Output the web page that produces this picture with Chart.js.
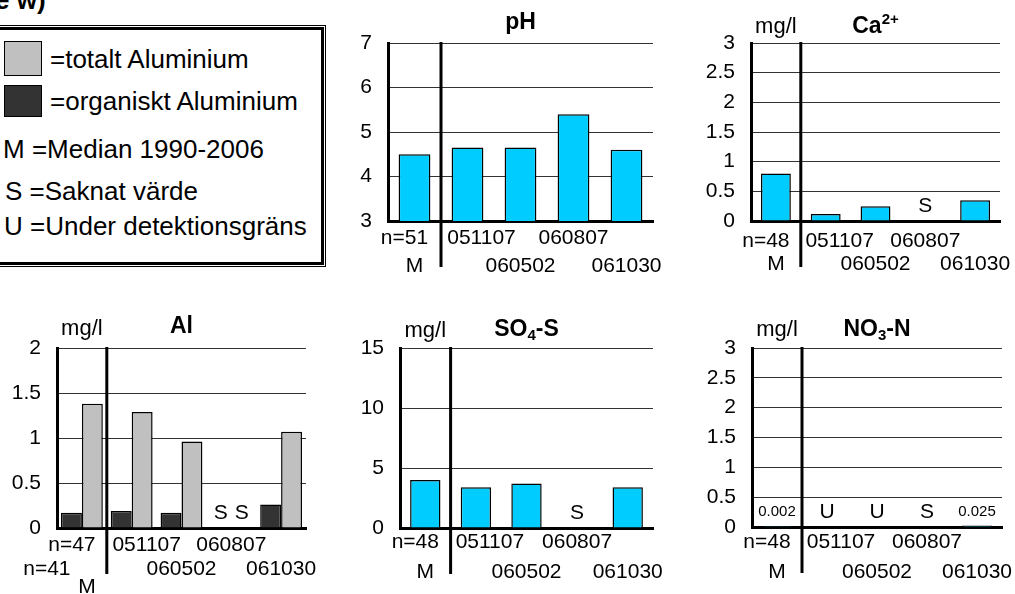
<!DOCTYPE html>
<html lang="sv">
<head>
<meta charset="UTF-8">
<title>Vattenkemi</title>
<script src="https://cdn.jsdelivr.net/npm/chart.js"></script>
<style>
    body {
        margin: 0;
        width: 1015px;
        height: 594px;
        position: relative;
        overflow: hidden;
        background: #fff;
        color: #000;
        font-family: "Liberation Sans", Arial, sans-serif;
    }
    canvas { position: absolute; }
    #head {
        position: absolute;
        left: -5px;
        top: -13px;
        font-size: 26px;
        line-height: 26px;
        font-weight: bold;
        white-space: nowrap;
    }
    #legendBox {
        position: absolute;
        left: -12px;
        top: 27px;
        width: 336px;
        height: 238px;
        box-sizing: border-box;
        border: 3px solid #000;
        outline: 1px solid #000;
        outline-offset: 1px;
    }
    .swatch {
        position: absolute;
        left: 4px;
        width: 38px;
        box-sizing: border-box;
        border: 1.5px solid #000;
    }
    .ltext {
        position: absolute;
        font-size: 26px;
        line-height: 26px;
        white-space: nowrap;
    }
</style>
</head>
<body>
<div id="head">e w)</div>
<div id="legendBox"></div>
<div class="swatch" style="top:41px;height:35px;background:#c0c0c0"></div>
<div class="swatch" style="top:85px;height:32px;background:#333"></div>
<div class="ltext" style="left:50px;top:46px">=totalt Aluminium</div>
<div class="ltext" style="left:50px;top:88px">=organiskt Aluminium</div>
<div class="ltext" style="left:3px;top:136px">M =Median 1990-2006</div>
<div class="ltext" style="left:5px;top:178px">S =Saknat värde</div>
<div class="ltext" style="left:4px;top:213px">U =Under detektionsgräns</div>

<canvas id="phChart"></canvas>
<canvas id="caChart"></canvas>
<canvas id="alChart"></canvas>
<canvas id="so4Chart"></canvas>
<canvas id="no3Chart"></canvas>

<script>
    // provtagningsdatum, samma i alla diagram
    const dateRows = [['051107'], ['', '060502'], ['060807'], ['', '061030']];

    const phCats = [['n=51', 'M']].concat(dateRows);
    const caCats = [['n=48', 'M']].concat(dateRows);
    const alCats = [['n=47', 'n=41', 'M']].concat(dateRows);
    const so4Cats = [['n=48', 'M']].concat(dateRows);
    const no3Cats = [['n=48', 'M']].concat(dateRows);

    const phValues = [4.5, 4.65, 4.65, 5.4, 4.6];
    const caValues = [0.8, 0.12, 0.25, null, 0.35];
    const alOrganic = [0.17, 0.19, 0.17, null, 0.26];
    const alTotal = [1.38, 1.29, 0.96, null, 1.07];
    const so4Values = [4.0, 3.4, 3.7, null, 3.4];
    const no3Values = [0.002, null, null, null, 0.025];

    // S = saknat värde, U = under detektionsgräns
    const caNotes = [null, null, null, 'S', null];
    const alOrganicNotes = [null, null, null, 'S', null];
    const alTotalNotes = [null, null, null, 'S', null];
    const so4Notes = [null, null, null, 'S', null];
    const no3Notes = [null, 'U', 'U', 'S', null];

    // y-axlar: [min, max, steg]
    const phAxis = [3, 7, 1];
    const caAxis = [0, 3, 0.5];
    const alAxis = [0, 2, 0.5];
    const so4Axis = [0, 15, 5];
    const no3Axis = [0, 3, 0.5];

    const FONT = '"Liberation Sans", Arial, sans-serif';
    const CYAN = '#00ccff';

    function panelPlugin(cfg) {
        return {
            id: 'panel',
            afterDatasetsDraw(chart) {
                const ctx = chart.ctx;
                const xs = chart.scales.x;
                const area = chart.chartArea;
                const xd = (xs.getPixelForValue(0) + xs.getPixelForValue(1)) / 2;
                ctx.save();
                ctx.strokeStyle = '#000';
                ctx.lineWidth = 3;
                ctx.beginPath();
                ctx.moveTo(xd, area.top - 1);
                ctx.lineTo(xd, area.bottom + 46);
                ctx.stroke();
                ctx.restore();
            },
            afterDraw(chart) {
                const ctx = chart.ctx;
                const xs = chart.scales.x;
                const ys = chart.scales.y;
                const area = chart.chartArea;
                const zero = ys.getPixelForValue(0);
                ctx.save();
                ctx.fillStyle = '#000';

                // kategorietiketter i rader
                ctx.font = '21px ' + FONT;
                ctx.textAlign = 'center';
                ctx.textBaseline = 'middle';
                cfg.cats.forEach((rows, i) => {
                    rows.forEach((s, r) => {
                        if (!s) return;
                        const dx = (cfg.shift[i] && cfg.shift[i][r]) || 0;
                        ctx.fillText(s, xs.getPixelForValue(i) + dx, area.bottom + cfg.rowY[r]);
                    });
                });

                // S / U markeringar
                cfg.notes.forEach((notes, d) => {
                    const meta = chart.getDatasetMeta(d);
                    notes.forEach((s, i) => {
                        if (!s) return;
                        ctx.fillText(s, meta.data[i].x, zero - 15);
                    });
                });

                // små värdeetiketter
                if (cfg.showValues) {
                    ctx.font = '15px ' + FONT;
                    chart.data.datasets.forEach((ds, d) => {
                        const meta = chart.getDatasetMeta(d);
                        ds.data.forEach((v, i) => {
                            if (v === null) return;
                            ctx.fillText(v.toFixed(3), meta.data[i].x, zero - 15);
                        });
                    });
                }

                // enhet
                if (cfg.unit) {
                    ctx.font = '22px ' + FONT;
                    ctx.textBaseline = 'alphabetic';
                    ctx.fillText(cfg.unit, xs.getPixelForValue(0), area.top + cfg.unitY);
                }

                // rubrik med upphöjt/nedsänkt
                ctx.textAlign = 'left';
                ctx.textBaseline = 'alphabetic';
                const fontOf = m => m ? 'bold 15px ' + FONT : 'bold 23px ' + FONT;
                let total = 0;
                cfg.title.forEach(([s, m]) => { ctx.font = fontOf(m); total += ctx.measureText(s).width; });
                let x = (area.left + area.right) / 2 - total / 2;
                const base = area.top + cfg.titleY;
                cfg.title.forEach(([s, m]) => {
                    ctx.font = fontOf(m);
                    const dy = m === 'sup' ? -9 : m === 'sub' ? 4 : 0;
                    ctx.fillText(s, x, base + dy);
                    x += ctx.measureText(s).width;
                });
                ctx.restore();
            }
        };
    }

    function makePanel(id, box, area, axis, datasets, cfg) {
        const cv = document.getElementById(id);
        cv.width = box.w;
        cv.height = box.h;
        cv.style.left = box.x + 'px';
        cv.style.top = box.y + 'px';
        const yWidth = area.l - box.x;
        const xHeight = 40;
        return new Chart(cv, {
            type: 'bar',
            data: {
                labels: cfg.cats.map(c => c.join(' ')),
                datasets: datasets
            },
            options: {
                responsive: false,
                animation: false,
                devicePixelRatio: 1,
                layout: {
                    padding: {
                        left: 0,
                        top: area.t - box.y,
                        right: box.x + box.w - area.r,
                        bottom: box.y + box.h - area.b - xHeight
                    }
                },
                plugins: {
                    legend: { display: false },
                    tooltip: { enabled: false }
                },
                scales: {
                    x: {
                        offset: true,
                        grid: { display: false },
                        border: { display: true, width: 3, color: '#000' },
                        ticks: { display: false },
                        afterFit: s => { s.height = xHeight; }
                    },
                    y: {
                        min: axis[0],
                        max: axis[1],
                        ticks: {
                            stepSize: axis[2],
                            color: '#000',
                            padding: 16,
                            font: { family: FONT, size: 21 },
                            callback: v => String(v)
                        },
                        grid: { color: '#333', lineWidth: 1, drawTicks: false },
                        border: { display: true, width: 3, color: '#000' },
                        afterFit: s => { s.width = yWidth; }
                    }
                }
            },
            plugins: [panelPlugin(cfg)]
        });
    }

    function cyanSet(values) {
        return {
            data: values,
            backgroundColor: CYAN,
            borderColor: '#000',
            borderWidth: 1.5,
            barPercentage: 0.6,
            categoryPercentage: 1
        };
    }

    const stdShift = { 0: [-10, 0], 1: [14] };

    makePanel('phChart', { x: 340, y: 0, w: 335, h: 290 }, { l: 388, r: 653, t: 43, b: 221 },
        phAxis, [cyanSet(phValues)],
        { cats: phCats, rowY: [17, 45], shift: stdShift, notes: [], title: [['pH', '']], titleY: -14 });

    makePanel('caChart', { x: 690, y: 0, w: 325, h: 290 }, { l: 751, r: 1000, t: 43, b: 221 },
        caAxis, [cyanSet(caValues)],
        { cats: caCats, rowY: [20, 43], shift: stdShift, notes: [caNotes],
          unit: 'mg/l', unitY: -10, title: [['Ca', ''], ['2+', 'sup']], titleY: -10 });

    makePanel('alChart', { x: 0, y: 300, w: 330, h: 294 }, { l: 57, r: 306, t: 348, b: 528 },
        alAxis, [
            { data: alOrganic, backgroundColor: '#333333', borderColor: '#000', borderWidth: 1.5,
              barPercentage: 1, categoryPercentage: 0.84 },
            { data: alTotal, backgroundColor: '#c0c0c0', borderColor: '#000', borderWidth: 1.5,
              barPercentage: 1, categoryPercentage: 0.84 }
        ],
        { cats: alCats, rowY: [17, 41, 59], shift: { 0: [-10, -35, 5], 1: [15] },
          notes: [alOrganicNotes, alTotalNotes], unit: 'mg/l', unitY: -13, title: [['Al', '']], titleY: -15 });

    makePanel('so4Chart', { x: 340, y: 300, w: 335, h: 294 }, { l: 400, r: 653, t: 348, b: 528 },
        so4Axis, [cyanSet(so4Values)],
        { cats: so4Cats, rowY: [14, 44], shift: stdShift, notes: [so4Notes],
          unit: 'mg/l', unitY: -11, title: [['SO', ''], ['4', 'sub'], ['-S', '']], titleY: -12 });

    makePanel('no3Chart', { x: 690, y: 300, w: 325, h: 294 }, { l: 752, r: 1002, t: 348, b: 527 },
        no3Axis, [cyanSet(no3Values)],
        { cats: no3Cats, rowY: [15, 45], shift: stdShift, notes: [no3Notes], showValues: true,
          unit: 'mg/l', unitY: -12, title: [['NO', ''], ['3', 'sub'], ['-N', '']], titleY: -12 });
</script>
</body>
</html>
